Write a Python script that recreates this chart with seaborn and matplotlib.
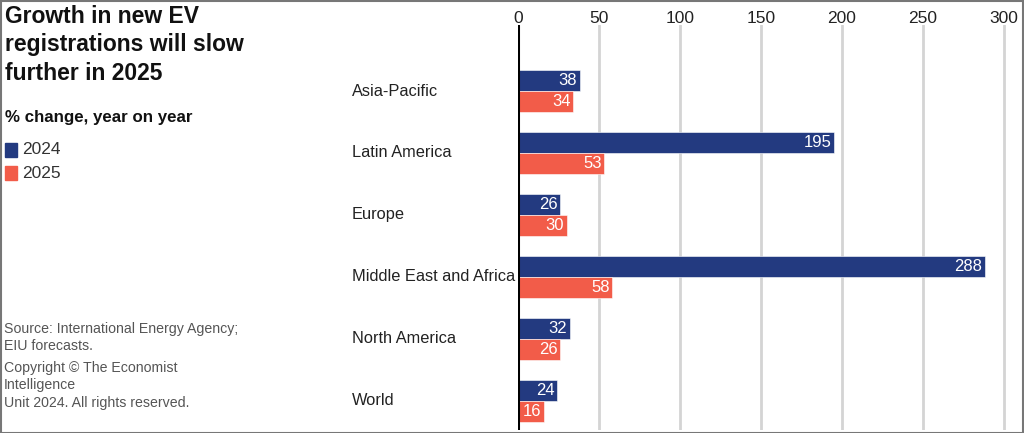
import pandas as pd
import matplotlib.pyplot as plt
import seaborn as sns
from matplotlib import font_manager
from matplotlib.patches import Rectangle

regions = ["Asia-Pacific", "Latin America", "Europe", "Middle East and Africa",
           "North America", "World"]
growth_2024 = [38, 195, 26, 288, 32, 24]
growth_2025 = [34, 53, 30, 58, 26, 16]
years = ["2024", "2025"]
x_ticks = [0, 50, 100, 150, 200, 250, 300]

navy = "#233a80"
coral = "#f25c49"

df = pd.DataFrame({
    "region": regions * 2,
    "year": [years[0]] * len(regions) + [years[1]] * len(regions),
    "value": growth_2024 + growth_2025,
})

sns.set_theme(style="white")
installed = {f.name for f in font_manager.fontManager.ttflist}
narrow = "Liberation Sans Narrow" if "Liberation Sans Narrow" in installed else "Liberation Sans"
plt.rcParams["font.family"] = [narrow, "DejaVu Sans"]

fig = plt.figure(figsize=(10.24, 4.33), dpi=100)
ax = fig.add_axes([518 / 1024, 3 / 433, (1016 - 518) / 1024, (430 - 25) / 433])

sns.barplot(data=df, y="region", x="value", hue="year", orient="h",
            palette=[navy, coral], width=0.68, ax=ax, legend=False,
            saturation=1, edgecolor="white", linewidth=0.4)

ax.set_xlim(0, (1016 - 518) / 1.62)
ax.set_ylim(5.47, -1.065)
ax.set_xticks(x_ticks)
ax.xaxis.tick_top()
ax.tick_params(axis="x", length=0, pad=-1, labelsize=12.5, labelcolor="#222222")
ax.set_yticks([])
ax.set_xlabel("")
ax.set_ylabel("")
for s in ax.spines.values():
    s.set_visible(False)
ax.grid(axis="x", color="#d4d4d4", linewidth=2)
ax.set_axisbelow(True)
ax.axvline(0, color="black", linewidth=2.2, zorder=5)

# value labels inside bar ends
for p in ax.patches:
    w = p.get_width()
    if w <= 0:
        continue
    ax.text(w - 1.5, p.get_y() + p.get_height() / 2, f"{w:.0f}",
            ha="right", va="center", color="white", fontsize=12)

# category labels
for i, r in enumerate(regions):
    ax.text(-166 / 1.62, i, r, ha="left", va="center", fontsize=11.8, color="#222222")

# title, subtitle, legend
fig.text(5 / 1024, 1 - 5 / 433, "Growth in new EV\nregistrations will slow\nfurther in 2025",
         ha="left", va="top", fontsize=16.5, fontweight="bold", color="#111111",
         linespacing=1.3)
fig.text(5 / 1024, 1 - 117 / 433, "% change, year on year", ha="left", va="center",
         fontsize=12.2, fontweight="bold", color="#111111")
for k, (yr, col) in enumerate(zip(years, [navy, coral])):
    yc = 150 + k * 23
    fig.patches.append(Rectangle((5 / 1024, 1 - (yc + 7) / 433), 12 / 1024, 14 / 433,
                                 transform=fig.transFigure, color=col))
    fig.text(22 / 1024, 1 - yc / 433, yr, ha="left", va="center", fontsize=12.5,
             color="#333333")

fig.text(4 / 1024, 1 - 322 / 433,
         "Source: International Energy Agency;\nEIU forecasts.",
         ha="left", va="top", fontsize=10.2, color="#555555", linespacing=1.3)
fig.text(4 / 1024, 1 - 361 / 433,
         "Copyright © The Economist\nIntelligence\nUnit 2024. All rights reserved.",
         ha="left", va="top", fontsize=10.2, color="#555555", linespacing=1.3)

# frame around the whole graphic
fig.patches.append(Rectangle((0.5 / 1024, 0.5 / 433), 1 - 1.5 / 1024, 1 - 1.5 / 433,
                             transform=fig.transFigure, fill=False,
                             edgecolor="#777777", linewidth=1.5))

fig.savefig("out.png", dpi=100)
